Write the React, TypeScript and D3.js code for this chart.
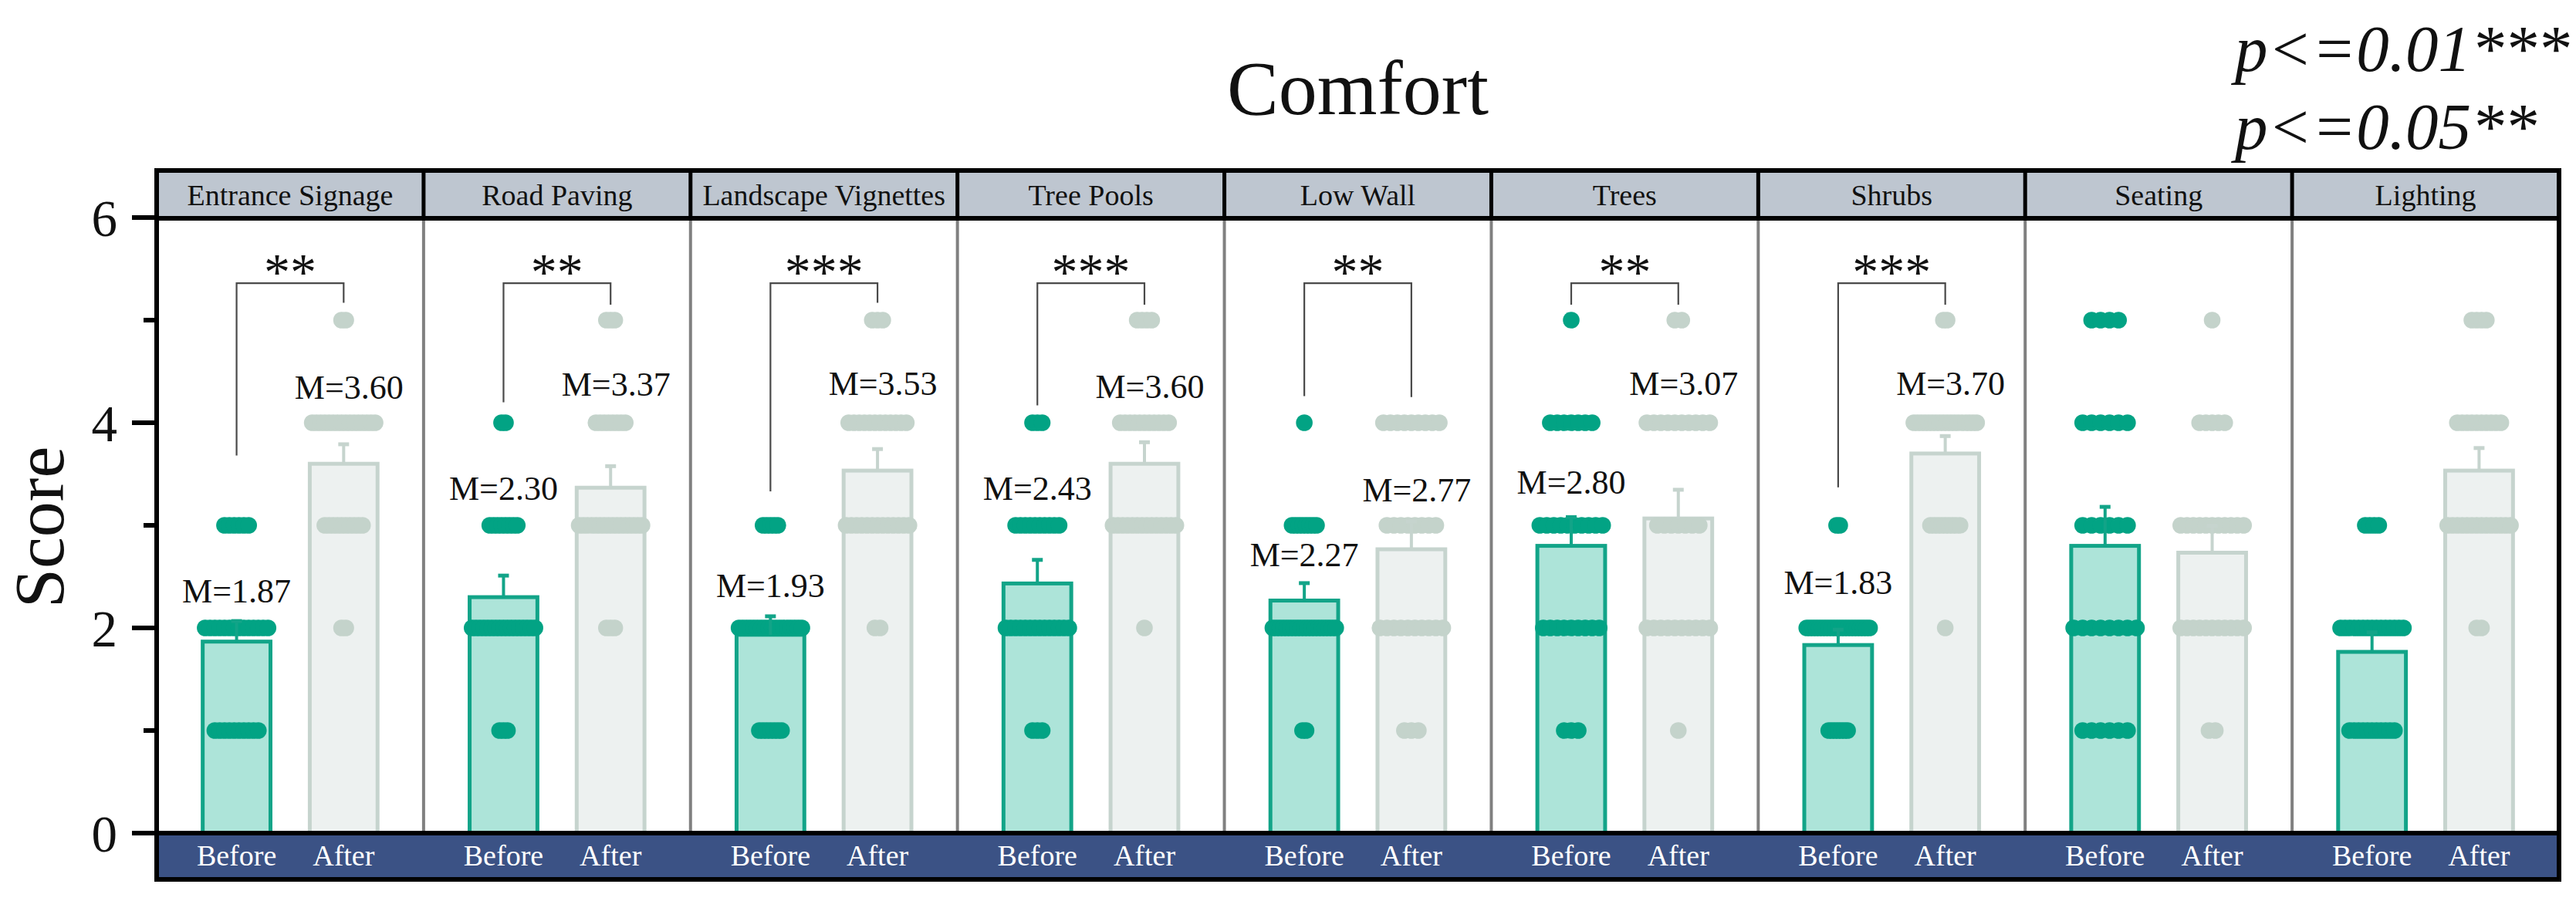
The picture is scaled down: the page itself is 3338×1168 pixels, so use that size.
import React from 'react';
import * as d3 from 'd3';

// ---------- data ----------
const title = 'Comfort';
const pNotes = ['p<=0.01***', 'p<=0.05**'];
const categories = [
  'Entrance Signage', 'Road Paving', 'Landscape Vignettes', 'Tree Pools',
  'Low Wall', 'Trees', 'Shrubs', 'Seating', 'Lighting',
];
const conditions = ['Before', 'After'];
const levels = [1, 2, 3, 4, 5];
// number of respondents giving each score 1..5
const beforeCounts = [
  [10, 14, 6, 0, 0],
  [3, 17, 8, 2, 0],
  [7, 18, 5, 0, 0],
  [3, 14, 10, 3, 0],
  [2, 19, 8, 1, 0],
  [3, 9, 10, 7, 1],
  [7, 21, 2, 0, 0],
  [6, 8, 6, 6, 4],
  [11, 15, 4, 0, 0],
];
const afterCounts = [
  [0, 2, 10, 16, 2],
  [0, 3, 16, 8, 3],
  [0, 2, 13, 12, 3],
  [0, 1, 14, 11, 4],
  [3, 10, 8, 9, 0],
  [1, 10, 7, 10, 2],
  [0, 1, 9, 18, 2],
  [2, 11, 11, 5, 1],
  [0, 2, 14, 10, 4],
];
const beforeErr = [0.20, 0.21, 0.18, 0.23, 0.17, 0.28, 0.15, 0.38, 0.19];
const afterErr = [0.19, 0.21, 0.21, 0.21, 0.27, 0.28, 0.17, 0.26, 0.22];
const sigLabels = ['**', '**', '***', '***', '**', '**', '***', '', ''];
const sigTop = 5.36;
const sigLeftEnd = [3.68, 4.2, 3.33, 4.17, 4.26, 5.15, 3.37, null, null];
const sigRightEnd = [5.17, 5.15, 5.17, 5.15, 4.25, 5.15, 5.15, null, null];
const labelAtBefore = [2.25, 3.25, 2.3, 3.25, 2.6, 3.31, 2.33, null, null];
const labelAtAfter = [4.23, 4.26, 4.27, 4.24, 3.23, 4.27, 4.27, null, null];
const yMajorTicks = [0, 2, 4, 6];
const yMinorTicks = [1, 3, 5];

// ---------- style ----------
const W = 3338;
const H = 1168;
const L = 203, R = 3316, HEAD_T = 221, PLOT_T = 283, PLOT_B = 1080, BAND_B = 1140;
const FONT = "'Liberation Serif', 'Times New Roman', serif";
const COL = {
  Before: { fill: '#ade4d9', stroke: '#12a488', dot: '#02a384' },
  After: { fill: '#edf1f0', stroke: '#c6d4ce', dot: '#c4d3cb' },
};
const HEADER_FILL = '#bec6d0';
const BAND_FILL = '#3b5285';
const DOT_R = 10.8;
const PILL_MAX = 103;

const mean = (c: number[]) => {
  const n = d3.sum(c);
  return d3.sum(c.map((v, i) => v * levels[i])) / n;
};

export default function App() {
  const x = d3.scaleBand<string>().domain(categories).range([L, R]).padding(0);
  const pw = x.bandwidth();
  const xi = d3.scaleBand<string>().domain(conditions).range([0, pw])
    .paddingInner(0.367).paddingOuter(0.43);
  const bw = xi.bandwidth();
  const y = d3.scaleLinear().domain([0, 6]).range([PLOT_B, 282]);

  const panels = categories.map((cat, i) => {
    const x0 = x(cat)!;
    const groups = conditions.map((cond) => {
      const counts = cond === 'Before' ? beforeCounts[i] : afterCounts[i];
      const err = cond === 'Before' ? beforeErr[i] : afterErr[i];
      const m = mean(counts);
      const cx = x0 + xi(cond)! + bw / 2;
      const cmax = d3.max(counts)!;
      const spacing = cmax > 1 ? (PILL_MAX - 2 * DOT_R) / (cmax - 1) : 0;
      const dots: { cx: number; cy: number }[] = [];
      counts.forEach((c, j) => {
        for (let k = 0; k < c; k++) {
          dots.push({ cx: cx + (k - (c - 1) / 2) * spacing, cy: y(levels[j]) });
        }
      });
      return { cond, counts, err, m, cx, dots };
    });
    return { cat, i, x0, groups };
  });

  return (
    <svg width={W} height={H} viewBox={`0 0 ${W} ${H}`}
      style={{ position: 'absolute', left: 0, top: 0, display: 'block', background: '#fff' }}>
      <rect x={0} y={0} width={W} height={H} fill="#fff" />
      {/* title */}
      <text x={(L + R) / 2} y={148} textAnchor="middle" fontFamily={FONT} fontSize={100} fill="#111">{title}</text>
      {pNotes.map((t, k) => (
        <text key={t} x={2896} y={92 + k * 101} fontFamily={FONT} fontStyle="italic" fontSize={85} fill="#111">{t}</text>
      ))}

      {/* header and band backgrounds */}
      <rect x={L} y={HEAD_T} width={R - L} height={PLOT_T - HEAD_T} fill={HEADER_FILL} />
      <rect x={L} y={PLOT_B} width={R - L} height={BAND_B - PLOT_B} fill={BAND_FILL} />

      {/* panels */}
      {panels.map((p) => (
        <g key={p.cat}>
          <text x={p.x0 + pw / 2} y={266} textAnchor="middle" fontFamily={FONT} fontSize={38} fill="#111">{p.cat}</text>
          {p.groups.map((g) => {
            const c = COL[g.cond as 'Before' | 'After'];
            return (
              <g key={g.cond}>
                <rect x={g.cx - bw / 2} y={y(g.m)} width={bw} height={PLOT_B - y(g.m)}
                  fill={c.fill} stroke={c.stroke} strokeWidth={5} />
                {g.dots.map((d, k) => (
                  <circle key={k} cx={d.cx} cy={d.cy} r={DOT_R} fill={c.dot} />
                ))}
                <line x1={g.cx} x2={g.cx} y1={y(g.m)} y2={y(g.m + g.err)} stroke={c.stroke} strokeWidth={4} />
                <line x1={g.cx - 7} x2={g.cx + 7} y1={y(g.m + g.err)} y2={y(g.m + g.err)} stroke={c.stroke} strokeWidth={5} />
                <text x={g.cx} y={1122} textAnchor="middle" fontFamily={FONT} fontSize={38} fill="#fff">{g.cond}</text>
              </g>
            );
          })}
          {sigLabels[p.i] && (() => {
            const a = p.groups[0].cx, b = p.groups[1].cx;
            return (
              <g>
                <path d={`M${a},${y(sigLeftEnd[p.i]!)}V${y(sigTop)}H${b}V${y(sigRightEnd[p.i]!)}`}
                  fill="none" stroke="#4a4a4a" strokeWidth={2.2} />
                <text x={(a + b) / 2} y={y(sigTop) + 8} textAnchor="middle" fontFamily={FONT} fontSize={68} fill="#111">{sigLabels[p.i]}</text>
              </g>
            );
          })()}
          {labelAtBefore[p.i] != null && (
            <text x={p.groups[0].cx} y={y(labelAtBefore[p.i]!)} textAnchor="middle" fontFamily={FONT} fontSize={44} fill="#111">
              {`M=${p.groups[0].m.toFixed(2)}`}
            </text>
          )}
          {labelAtAfter[p.i] != null && (
            <text x={p.groups[1].cx + 7} y={y(labelAtAfter[p.i]!)} textAnchor="middle" fontFamily={FONT} fontSize={44} fill="#111">
              {`M=${p.groups[1].m.toFixed(2)}`}
            </text>
          )}
        </g>
      ))}

      {/* dividers */}
      {categories.slice(1).map((cat) => (
        <g key={cat}>
          <line x1={x(cat)!} x2={x(cat)!} y1={PLOT_T} y2={PLOT_B} stroke="#808080" strokeWidth={4} />
          <line x1={x(cat)!} x2={x(cat)!} y1={HEAD_T} y2={PLOT_T} stroke="#000" strokeWidth={5} />
        </g>
      ))}
      {[HEAD_T, PLOT_T, PLOT_B, BAND_B].map((yy) => (
        <line key={yy} x1={L - 3} x2={R + 3} y1={yy} y2={yy} stroke="#000" strokeWidth={6} />
      ))}
      <line x1={L} x2={L} y1={HEAD_T} y2={BAND_B} stroke="#000" strokeWidth={6} />
      <line x1={R} x2={R} y1={HEAD_T} y2={BAND_B} stroke="#000" strokeWidth={6} />

      {/* y axis */}
      {yMajorTicks.map((t) => (
        <g key={t}>
          <line x1={171} x2={L} y1={y(t)} y2={y(t)} stroke="#000" strokeWidth={6} />
          <text x={152} y={y(t) + 24} textAnchor="end" fontFamily={FONT} fontSize={67} fill="#111">{t}</text>
        </g>
      ))}
      {yMinorTicks.map((t) => (
        <line key={t} x1={186} x2={L} y1={y(t)} y2={y(t)} stroke="#000" strokeWidth={6} />
      ))}
      <text transform={`translate(82,${(PLOT_T + PLOT_B) / 2 + 2}) rotate(-90)`} textAnchor="middle"
        fontFamily={FONT} fontSize={92} fill="#111">Score</text>
    </svg>
  );
}
